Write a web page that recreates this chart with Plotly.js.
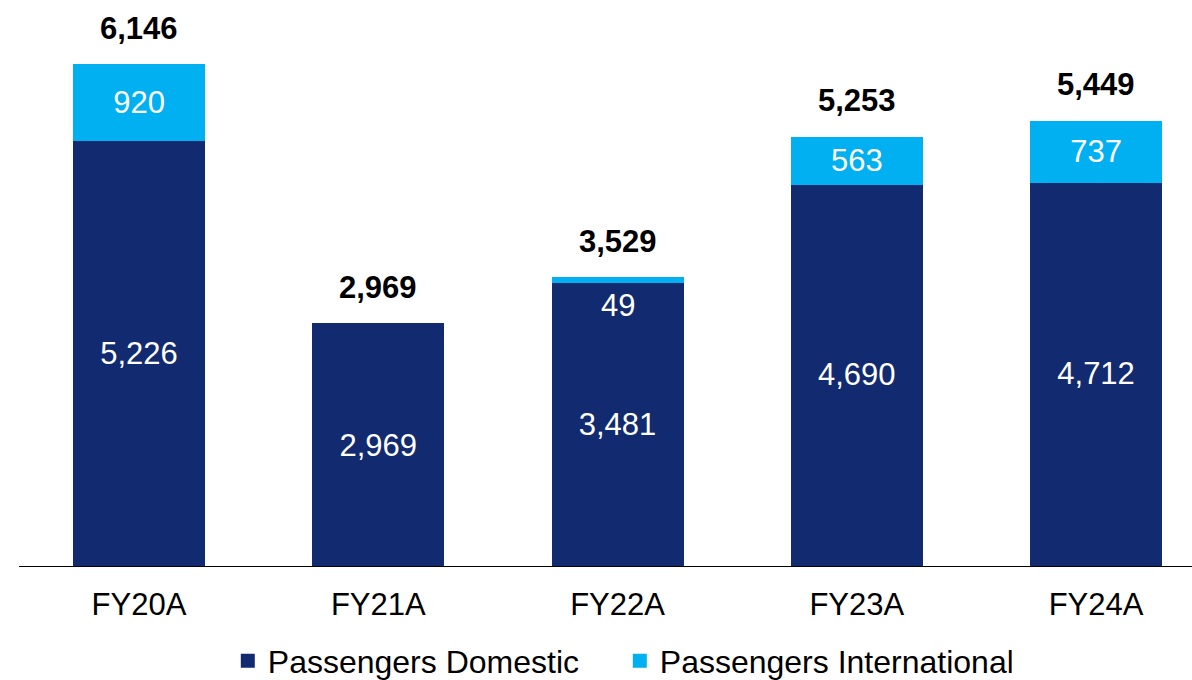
<!DOCTYPE html>
<html>
<head>
<meta charset="utf-8">
<script src="https://cdn.plot.ly/plotly-3.0.1.min.js"></script>
<style>html,body{margin:0;padding:0;background:#fff;}#chart{width:1192px;height:680px;}</style>
</head>
<body>
<div id="chart"></div>
<script>
var categories = ['FY20A', 'FY21A', 'FY22A', 'FY23A', 'FY24A'];
var domesticValues = [5226, 2969, 3481, 4690, 4712];
var internationalValues = [920, 0, 49, 563, 737];
var totalLabels = [6146, 2969, 3529, 5253, 5449];
var seriesNames = ['Passengers Domestic', 'Passengers International'];

var FONT = 'Liberation Sans, Arial, sans-serif';
var NAVY = '#122a70';
var CYAN = '#00b0f0';
function fmt(v) { return v.toLocaleString('en-US'); }

var domestic = {
  type: 'bar', name: seriesNames[0], x: categories, y: domesticValues,
  marker: {color: NAVY, line: {color: NAVY, width: 2}},
  text: domesticValues.map(fmt), textposition: 'inside', insidetextanchor: 'middle',
  constraintext: 'none', textangle: 0,
  textfont: {family: FONT, size: 31, color: '#ffffff'},
  hoverinfo: 'x+y+name'
};
var intl = {
  type: 'bar', name: seriesNames[1], x: categories, y: internationalValues,
  marker: {color: CYAN, line: {color: CYAN, width: internationalValues.map(function (v) { return v > 0 ? 2 : 0; })}},
  text: internationalValues.map(function (v) { return v >= 100 ? fmt(v) : ''; }),
  textposition: 'inside', insidetextanchor: 'middle',
  constraintext: 'none', textangle: 0,
  textfont: {family: FONT, size: 31, color: '#ffffff'},
  hoverinfo: 'x+y+name'
};

var annotations = [];
categories.forEach(function (c, i) {
  var top = domesticValues[i] + internationalValues[i];
  annotations.push({
    x: c, y: top, xref: 'x', yref: 'y', text: '<b>' + fmt(totalLabels[i]) + '</b>',
    showarrow: false, yanchor: 'middle', yshift: 37,
    font: {family: FONT, size: 31, color: '#000000'}
  });
  if (internationalValues[i] > 0 && internationalValues[i] < 100) {
    annotations.push({
      x: c, y: top, xref: 'x', yref: 'y', text: fmt(internationalValues[i]),
      showarrow: false, yanchor: 'middle', yshift: -27,
      font: {family: FONT, size: 31, color: '#ffffff'}
    });
  }
});

var layout = {
  width: 1192, height: 680,
  margin: {l: 19, r: 0, t: 0, b: 114},
  paper_bgcolor: '#ffffff', plot_bgcolor: '#ffffff',
  barmode: 'stack', bargap: 0.4566,
  font: {family: FONT, size: 31, color: '#000000'},
  xaxis: {
    range: [-0.5016, 4.401], showgrid: false, zeroline: false,
    showline: true, linecolor: '#000000', linewidth: 1,
    ticks: '', ticklabelstandoff: 11,
    tickfont: {family: FONT, size: 31, color: '#000000'},
    fixedrange: true, automargin: false
  },
  yaxis: {
    range: [0, 6945], showgrid: false, zeroline: false, showline: false,
    showticklabels: false, ticks: '', fixedrange: true, automargin: false
  },
  showlegend: true,
  legend: {
    orientation: 'h', x: 0.178, xanchor: 'left', xref: 'paper',
    y: 0.028, yanchor: 'middle', yref: 'container',
    entrywidth: 347, entrywidthmode: 'pixels',
    font: {family: FONT, size: 32, color: '#000000'},
    traceorder: 'normal', bgcolor: 'rgba(0,0,0,0)'
  },
  annotations: annotations
};

Plotly.newPlot('chart', [domestic, intl], layout, {displayModeBar: false, staticPlot: true});
</script>
</body>
</html>
